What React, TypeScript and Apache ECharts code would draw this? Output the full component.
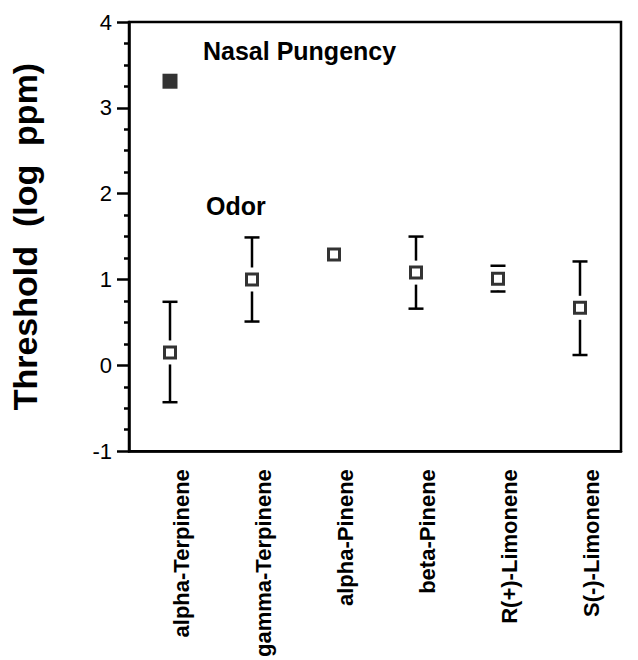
import React, { useEffect, useRef } from "react";
import * as echarts from "echarts";

const categories = [
  "alpha-Terpinene",
  "gamma-Terpinene",
  "alpha-Pinene",
  "beta-Pinene",
  "R(+)-Limonene",
  "S(-)-Limonene",
];
const odor = [0.15, 1.0, 1.29, 1.08, 1.01, 0.67];
const odorHigh = [0.74, 1.49, null, 1.5, 1.16, 1.21];
const odorLow = [-0.43, 0.51, null, 0.66, 0.86, 0.12];
const pungency = [3.31, null, null, null, null, null];

const FONT = "'Liberation Sans', Arial, Helvetica, sans-serif";

export default function App() {
  const ref = useRef<HTMLDivElement>(null);
  useEffect(() => {
    if (!ref.current) return;
    const chart = echarts.init(ref.current, null, { renderer: "svg" });
    const errData: any[] = [];
    categories.forEach((_, i) => {
      if (odorHigh[i] != null && odorLow[i] != null) {
        errData.push([i, odorLow[i], odorHigh[i], odor[i]]);
      }
    });
    chart.setOption({
      animation: false,
      backgroundColor: "#fff",
      textStyle: { fontFamily: FONT },
      grid: {
        left: 129,
        right: 17,
        top: 22,
        bottom: 206,
        show: true,
        borderColor: "#000",
        borderWidth: 2.5,
      },
      xAxis: {
        type: "category",
        data: categories,
        boundaryGap: true,
        axisLine: { onZero: false, lineStyle: { color: "#000", width: 2.5 } },
        axisTick: { alignWithLabel: true, length: 12, lineStyle: { color: "#000", width: 2.5 } },
        axisLabel: {
          rotate: 90,
          margin: 18,
          fontSize: 22,
          fontWeight: "bold",
          color: "#000",
          fontFamily: FONT,
          verticalAlign: "top",
          interval: 0,
        },
        splitLine: { show: false },
      },
      yAxis: {
        type: "value",
        min: -1,
        max: 4,
        interval: 1,
        name: "Threshold  (log  ppm)",
        nameLocation: "middle",
        nameRotate: 90,
        nameGap: 87,
        nameTextStyle: { fontSize: 34, fontWeight: "bold", color: "#000", fontFamily: FONT },
        axisLine: { show: true, lineStyle: { color: "#000", width: 2.5 } },
        axisTick: { show: true, length: 12, lineStyle: { color: "#000", width: 2.5 } },
        minorTick: { show: true, splitNumber: 4, length: 5, lineStyle: { color: "#000", width: 2.5 } },
        axisLabel: { fontSize: 22, color: "#000", margin: 17, fontFamily: FONT },
        splitLine: { show: false },
        minorSplitLine: { show: false },
      },
      series: [
        {
          type: "custom",
          name: "Odor error",
          data: errData,
          encode: { x: 0, y: [1, 2] },
          z: 1,
          renderItem: (params: any, api: any) => {
            const x = api.value(0);
            const lo = api.value(1);
            const hi = api.value(2);
            const c = api.value(3);
            const pHi = api.coord([x, hi]);
            const pLo = api.coord([x, lo]);
            const pC = api.coord([x, c]);
            const cap = 7.5;
            const gap = 12;
            const style = { stroke: "#000", lineWidth: 2.5 };
            const children: any[] = [
              { type: "line", shape: { x1: pHi[0] - cap, y1: pHi[1], x2: pHi[0] + cap, y2: pHi[1] }, style },
              { type: "line", shape: { x1: pLo[0] - cap, y1: pLo[1], x2: pLo[0] + cap, y2: pLo[1] }, style },
            ];
            if (pC[1] - gap > pHi[1]) {
              children.push({ type: "line", shape: { x1: pHi[0], y1: pHi[1], x2: pHi[0], y2: pC[1] - gap }, style });
            }
            if (pC[1] + gap < pLo[1]) {
              children.push({ type: "line", shape: { x1: pLo[0], y1: pC[1] + gap, x2: pLo[0], y2: pLo[1] }, style });
            }
            return { type: "group", children };
          },
        },
        {
          type: "scatter",
          name: "Odor",
          data: odor,
          symbol: "rect",
          symbolSize: 11,
          z: 3,
          itemStyle: { color: "#fff", borderColor: "#000", borderWidth: 3 },
        },
        {
          type: "scatter",
          name: "Nasal Pungency",
          data: pungency,
          symbol: "rect",
          symbolSize: 15,
          z: 3,
          itemStyle: { color: "#000", borderColor: "#000", borderWidth: 0 },
        },
      ],
      graphic: [
        {
          type: "text",
          left: 203,
          top: 38,
          style: { text: "Nasal Pungency", fontSize: 25, fontWeight: "bold", fill: "#000", fontFamily: FONT },
        },
        {
          type: "text",
          left: 206,
          top: 193,
          style: { text: "Odor", fontSize: 25, fontWeight: "bold", fill: "#000", fontFamily: FONT },
        },
      ],
    });
    return () => chart.dispose();
  }, []);
  return (
    <div
      ref={ref}
      style={{ position: "fixed", left: 0, top: 0, width: 638, height: 660, background: "#fff" }}
    />
  );
}
